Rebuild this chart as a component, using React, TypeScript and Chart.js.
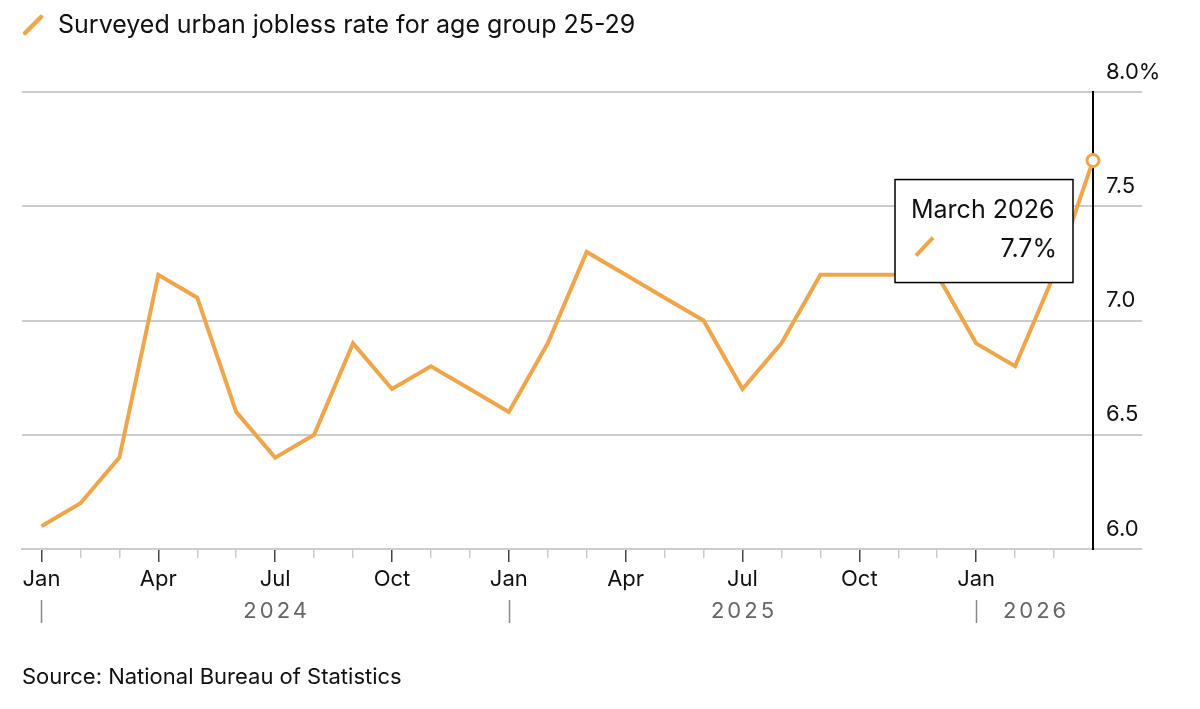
import React, { useEffect, useRef } from "react";
import { Chart, registerables } from "chart.js";

Chart.register(...registerables);

// ---- Data ----
const periods = [
  "December 2023", "January 2024", "February 2024", "March 2024", "April 2024", "May 2024", "June 2024",
  "July 2024", "August 2024", "September 2024", "October 2024", "November 2024", "December 2024",
  "January 2025", "February 2025", "March 2025", "April 2025", "May 2025", "June 2025", "July 2025",
  "August 2025", "September 2025", "October 2025", "November 2025", "December 2025", "January 2026",
  "February 2026", "March 2026",
];
const values = [
  6.1, 6.2, 6.4, 7.2, 7.1, 6.6, 6.4, 6.5, 6.9, 6.7, 6.8, 6.7, 6.6, 6.9, 7.3, 7.2, 7.1, 7.0, 6.7, 6.9,
  7.2, 7.2, 7.2, 7.2, 6.9, 6.8, 7.2, 7.7,
];
const monthTickIndex = [0, 3, 6, 9, 12, 15, 18, 21, 24];
const monthTickLabels = ["Jan", "Apr", "Jul", "Oct", "Jan", "Apr", "Jul", "Oct", "Jan"];
const yearLabels = ["2024", "2025", "2026"];
const yearLabelIndex = [6, 18, 25.5];
const yearStartIndex = [0, 12, 24];
const yTicks = [6.0, 6.5, 7.0, 7.5, 8.0];
const seriesName = "Surveyed urban jobless rate for age group 25-29";
const sourceText = "Source: National Bureau of Statistics";

const FONT = "Inter, 'Liberation Sans', Arial, sans-serif";
const ORANGE = "#EFA64A";
const GRID = "#cccccc";

const extras = {
  id: "extras",
  afterDatasetsDraw(chart: any) {
    const ctx = chart.ctx;
    const meta = chart.getDatasetMeta(0);
    const last = meta.data[meta.data.length - 1];
    const px = last.x;
    const py = last.y;
    const w = 178;
    const h = 103;
    const left = px - 20 - w;
    const top = py + 19;
    ctx.save();
    ctx.fillStyle = "#fff";
    ctx.fillRect(left, top, w, h);
    ctx.strokeStyle = "#000";
    ctx.lineWidth = 1.5;
    ctx.strokeRect(left, top, w, h);
    ctx.fillStyle = "#111";
    ctx.font = `25px ${FONT}`;
    ctx.textBaseline = "alphabetic";
    ctx.textAlign = "left";
    ctx.fillText(periods[periods.length - 1], left + 16, top + 38);
    ctx.textAlign = "right";
    ctx.fillText(values[values.length - 1].toFixed(1) + "%", left + w - 16, top + 77);
    ctx.strokeStyle = ORANGE;
    ctx.lineWidth = 4;
    ctx.lineCap = "butt";
    ctx.beginPath();
    ctx.moveTo(left + 21, top + 76);
    ctx.lineTo(left + 38, top + 58);
    ctx.stroke();
    ctx.restore();
  },
  afterDraw(chart: any) {
    const ctx = chart.ctx;
    const xs = chart.scales.x;
    ctx.save();
    // legend
    ctx.strokeStyle = ORANGE;
    ctx.lineWidth = 4.5;
    ctx.lineCap = "round";
    ctx.beginPath();
    ctx.moveTo(25, 33);
    ctx.lineTo(41, 17);
    ctx.stroke();
    ctx.fillStyle = "#111";
    ctx.font = `25px ${FONT}`;
    ctx.textAlign = "left";
    ctx.textBaseline = "middle";
    ctx.fillText(seriesName, 58, 25);
    // year separators
    ctx.strokeStyle = "#888";
    ctx.lineWidth = 1.5;
    ctx.lineCap = "butt";
    yearStartIndex.forEach((i) => {
      const x = Math.round(xs.getPixelForValue(i)) + 0.5;
      ctx.beginPath();
      ctx.moveTo(x, 600);
      ctx.lineTo(x, 623);
      ctx.stroke();
    });
    // year labels
    ctx.fillStyle = "#666";
    ctx.font = `22px ${FONT}`;
    (ctx as any).letterSpacing = "3px";
    ctx.textAlign = "center";
    yearLabels.forEach((t, k) => {
      ctx.fillText(t, xs.getPixelForValue(yearLabelIndex[k]) + 1.5, 611);
    });
    (ctx as any).letterSpacing = "0px";
    // source
    ctx.fillStyle = "#111";
    ctx.font = `22px ${FONT}`;
    ctx.textAlign = "left";
    ctx.fillText(sourceText, 22, 677);
    ctx.restore();
  },
};

export default function App() {
  const ref = useRef<HTMLCanvasElement | null>(null);
  useEffect(() => {
    document.body.style.margin = "0";
    const canvas = ref.current!;
    const chart = new Chart(canvas, {
      type: "line",
      data: {
        datasets: [
          {
            label: seriesName,
            data: values.map((v, i) => ({ x: i, y: v })),
            borderColor: ORANGE,
            borderWidth: 4,
            tension: 0,
            clip: false as any,
            pointRadius: (c: any) => (c.dataIndex === values.length - 1 ? 6 : 0),
            pointHoverRadius: (c: any) => (c.dataIndex === values.length - 1 ? 6 : 0),
            pointBackgroundColor: "#fff",
            pointBorderColor: ORANGE,
            pointBorderWidth: 3,
          },
        ],
      },
      options: {
        responsive: false,
        animation: false,
        events: [],
        layout: { padding: { top: 92, left: 22, right: 0, bottom: 0 } },
        plugins: { legend: { display: false }, tooltip: { enabled: false } },
        scales: {
          x: {
            type: "linear",
            min: -0.5,
            max: 27,
            afterBuildTicks: (s: any) => {
              s.ticks = periods.slice(0, periods.length - 1).map((_, i) => ({ value: i }));
            },
            afterFit: (s: any) => {
              s.height = 160;
            },
            grid: {
              drawOnChartArea: false,
              tickLength: 13,
              lineWidth: 1.5,
              color: (c: any) => (monthTickIndex.includes(c.tick?.value) ? "#444" : GRID),
              tickBorderDash: (c: any) => (monthTickIndex.includes(c.tick?.value) ? [] : [8, 30]),
            } as any,
            border: { display: true, color: GRID, width: 2 },
            ticks: {
              autoSkip: false,
              maxRotation: 0,
              padding: 4,
              color: "#111",
              font: { family: FONT, size: 22 },
              callback: (v: any) => {
                const k = monthTickIndex.indexOf(Number(v));
                return k >= 0 ? monthTickLabels[k] : "";
              },
            },
          },
          y: {
            position: "right",
            min: 6,
            max: 8,
            afterBuildTicks: (s: any) => {
              s.ticks = yTicks.map((v) => ({ value: v }));
            },
            afterFit: (s: any) => {
              s.width = 107;
            },
            grid: { color: GRID, lineWidth: 2, tickLength: 49 },
            border: { display: true, color: "#000", width: 2 },
            ticks: {
              padding: -36,
              labelOffset: -20,
              color: "#111",
              font: { family: FONT, size: 22 },
              callback: (v: any) => (Number(v) === 8 ? "8.0%" : Number(v).toFixed(1)),
            },
          },
        },
      },
      plugins: [extras],
    });
    return () => chart.destroy();
  }, []);
  return (
    <div style={{ width: 1200, height: 709, background: "#fff" }}>
      <canvas ref={ref} width={1200} height={709} style={{ display: "block" }} />
    </div>
  );
}
